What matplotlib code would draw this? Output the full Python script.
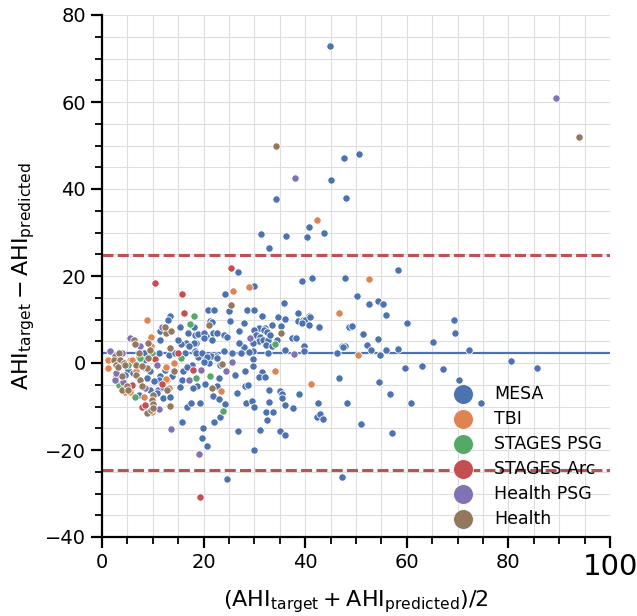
import numpy as np
import matplotlib
matplotlib.use("Agg")
import matplotlib.pyplot as plt
from matplotlib.ticker import MultipleLocator

# (mean AHI, difference) pairs, one list per dataset
mesa = [
    (44.8, 72.9), (50.6, 48.1), (47.6, 47.1), (45.0, 42.1), (48.1, 37.9), (34.3, 37.6),
    (40.7, 31.3), (31.3, 29.7), (36.3, 29.2), (40.4, 29.0), (43.7, 30.0), (32.9, 26.4),
    (39.3, 18.9), (41.4, 19.6), (47.8, 19.5), (58.3, 21.3), (50.1, 15.4), (54.3, 14.2),
    (26.7, 20.9), (24.3, 15.9), (30.0, 17.6),
    (52.5, 13.6), (55.4, 13.6), (56.0, 11.0), (40.8, 10.8), (42.8, 8.2), (48.7, 8.2),
    (49.3, 8.4), (60.0, 9.3), (69.2, 10.0), (69.4, 6.9), (51.3, 6.7), (54.3, 5.6),
    (65.2, 4.8), (52.2, 4.1), (52.9, 3.0), (54.7, 1.8), (56.0, 3.1), (58.2, 3.3),
    (72.2, 3.1), (47.3, 3.9), (47.9, 3.9), (47.5, 3.6), (46.3, 2.3), (39.8, 3.9),
    (39.7, 2.7), (80.6, 0.5), (85.7, -1.2), (59.6, -1.1), (62.9, -0.6), (67.2, -1.4),
    (70.2, -3.9), (46.6, -3.4), (54.6, -4.3), (56.7, -7.2), (38.7, -7.1), (42.6, -9.2),
    (48.2, -9.2), (60.9, -9.3), (74.7, -9.2), (42.4, -12.3), (43.0, -11.8), (43.5, -12.9),
    (50.9, -14.0), (57.0, -16.2), (47.3, -26.1),
    (38.5, 11.6), (38.5, 9.6), (39.6, 9.9), (40.0, 10.0), (39.4, 9.1), (40.8, 8.7),
    (37.4, 5.7), (38.1, 5.7), (37.6, -10.4), (41.0, 10.6),
    (25.0, 12.0), (20.8, 12.2), (22.1, 12.2), (28.6, 12.2), (30.0, 12.2), (35.8, 13.9),
    (21.2, 9.7), (21.6, 9.4), (25.1, 9.7), (27.9, 9.1), (31.5, 10.9), (34.7, 10.6),
    (36.0, 10.1), (33.4, 8.7), (35.3, 8.6), (30.9, 8.0), (32.0, 8.0), (31.9, 7.6),
    (32.5, 7.2), (30.0, 7.6), (27.0, 7.4), (21.9, 7.0), (22.6, 7.0), (24.0, 6.4),
    (24.6, 5.9), (20.4, 6.2), (21.6, 5.3), (18.3, 6.5), (18.6, 4.7), (30.4, 6.4),
    (31.2, 5.9), (30.9, 5.1), (31.6, 5.3), (32.6, 5.4), (33.0, 6.4), (34.5, 5.4),
    (32.2, 4.1), (33.4, 4.0), (29.7, 4.5), (27.9, 3.7), (26.9, 4.5), (36.0, 3.0),
    (32.7, 2.4), (29.8, 2.8), (28.9, 2.6), (27.4, 2.4), (25.5, 2.2), (24.1, 2.8),
    (22.4, 1.6), (21.4, 1.6), (20.0, 1.4), (18.8, 1.4), (18.3, 2.7), (29.8, 0.9),
    (29.8, -0.7), (20.4, 1.1), (21.1, -0.1),
    (18.7, -5.4), (17.9, -5.8), (20.3, -4.8), (23.0, -3.5), (22.6, -5.3), (21.8, -7.6),
    (23.0, -8.2), (24.3, -9.4), (19.2, -9.3), (23.2, -12.3), (22.1, -13.6), (19.9, -14.9),
    (19.6, -17.2), (20.7, -19.1), (24.6, -26.7), (26.6, -7.0), (26.1, -2.8), (28.2, -1.8),
    (31.4, -2.0), (31.0, -3.3), (32.0, -3.3), (28.2, -5.3), (28.7, -5.0), (32.9, -6.3),
    (28.4, -9.3), (29.5, -8.7), (29.9, -10.0), (32.9, -9.0), (35.0, -6.5), (35.5, -7.2),
    (35.4, -8.1), (36.0, -9.7), (32.2, -11.2), (33.7, -11.2), (32.4, -13.1), (31.1, -15.3),
    (26.7, -15.6), (35.1, -15.6), (36.0, -16.5), (30.0, -20.0),
    (13.3, 10.8), (12.9, 10.0), (11.4, 7.4), (11.4, 5.4), (15.4, 8.2), (14.9, 5.4),
    (16.9, 6.8), (18.8, 6.6), (8.2, 2.2), (8.2, 0.7), (11.3, 2.4), (13.2, 1.8),
    (14.4, 2.2), (16.6, 4.5), (18.1, 4.5), (16.3, 2.2), (18.5, 2.2), (19.6, 2.2),
    (9.4, -1.8), (12.4, -1.6), (11.4, -3.1), (16.0, -1.8), (15.8, -3.9), (9.4, -6.1),
    (11.0, -6.2), (12.0, -5.6), (7.9, -5.4), (7.2, -7.4), (12.0, -8.1), (13.4, -7.9),
    (16.8, -10.2), (15.7, -13.5), (15.3, -5.6), (11.3, -3.9), (10.8, -6.8), (5.1, -1.6),
    (8.9, -3.5), (17.5, -9.3), (15.5, 4.3), (17.2, 3.8), (17.7, -0.4), (16.7, -1.0),
    (20.6, 1.3), (20.1, 0.3), (22.6, 1.1), (23.3, -0.4), (20.0, 6.8), (20.1, 5.7),
    (15.0, 5.3), (18.2, 8.3), (4.5, -2.8), (7.2, 1.4), (6.2, -2.2), (10.3, -4.2),
    (13.8, -3.0),
]
tbi = [
    (42.3, 32.9), (52.5, 19.4), (25.7, 16.6), (28.9, 17.4), (46.6, 11.6), (50.3, 1.9),
    (41.1, -4.8), (34.0, -1.8), (23.5, -6.4), (8.9, 9.9), (9.6, 5.9), (1.1, 0.8),
    (1.1, -1.1), (5.5, 0.7), (7.2, 0.1), (14.2, 0.0), (12.8, -3.9), (13.1, -5.8),
    (9.8, -11.2), (4.5, -6.7), (5.5, -6.6), (5.9, 0.7), (6.6, -1.8), (8.2, -7.8),
    (9.6, 3.8), (10.0, -7.6), (12.6, -3.7), (12.6, -1.0), (9.0, -10.5),
]
stages_psg = [
    (34.1, 4.3), (18.2, 10.8), (17.4, 9.0), (18.6, -3.4), (21.2, -2.9), (23.9, -11.1),
    (9.9, 2.2), (3.4, -5.0), (5.2, -0.4), (7.4, 1.1), (6.4, -7.9), (15.6, 1.1),
]
stages_arc = [
    (10.5, 18.5), (15.7, 15.9), (25.3, 21.9), (16.1, 11.6), (14.9, 2.2), (10.5, 0.9),
    (17.9, -1.7), (11.8, -4.8), (7.9, -10.0), (8.4, -9.6), (2.8, -3.1), (5.9, -5.0),
    (8.5, -1.2), (19.3, -30.7),
]
health_psg = [
    (37.9, 42.6), (89.4, 61.0), (37.8, 2.1), (29.2, 5.7), (25.5, 0.2), (19.5, -1.6),
    (24.5, -1.8), (19.0, -21.0), (11.8, 8.3), (5.5, 5.7), (7.5, 3.9), (1.6, 2.8),
    (10.8, -0.4), (17.1, -3.9), (11.3, -10.6), (2.6, -3.9), (2.8, -2.4), (3.9, 2.4),
    (4.2, -4.3), (8.5, -5.8), (13.6, -15.2),
]
health = [
    (34.3, 50.0), (93.9, 52.0), (25.4, 13.3), (21.0, 8.7), (35.3, 7.0), (23.7, -0.3),
    (21.6, -5.8), (12.6, 6.8), (13.6, 7.3), (9.1, 4.5), (9.4, 3.0), (2.5, 1.6),
    (3.3, 2.2), (2.3, 0.7), (3.6, 0.7), (2.7, -0.4), (4.4, 0.0), (9.0, 1.1), (7.7, -0.7),
    (8.8, -1.1), (14.2, -1.8), (10.1, -7.4), (9.8, -8.5), (13.3, -9.9), (6.3, 5.4),
    (6.4, 4.4), (7.2, 2.4), (6.7, -0.4), (7.9, -0.7), (6.7, -2.8), (7.5, -3.9),
    (7.9, -5.4), (8.9, -11.6), (9.6, -10.8), (10.1, -9.4), (10.1, -10.3), (12.7, -6.2),
    (12.4, 8.3), (13.4, 3.4), (3.2, -1.0), (3.9, -3.1), (4.5, -0.4), (3.9, -6.2),
    (4.9, -5.4), (5.2, -6.1),
]

groups = ["MESA", "TBI", "STAGES PSG", "STAGES Arc", "Health PSG", "Health"]
data = [mesa, tbi, stages_psg, stages_arc, health_psg, health]
colors = ["#4C72B0", "#DD8452", "#55A868", "#C44E52", "#8172B3", "#937860"]

mean_diff = 2.3
upper_loa = 24.9
lower_loa = -24.7

fig = plt.figure(figsize=(6.37, 6.16), dpi=100)
ax = fig.add_axes([102 / 637, 79 / 616, 508 / 637, 522 / 616])

for name, pts, c in zip(groups, data, colors):
    pts = np.asarray(pts)
    ax.scatter(pts[:, 0], pts[:, 1], s=28, color=c, edgecolor="white", linewidth=0.6,
               label=name, zorder=3)

ax.axhline(mean_diff, color="#4C72B0", lw=1.6, zorder=2)
ax.axhline(upper_loa, color="#C44E52", lw=2.2, ls=(0, (3.6, 1.4)), zorder=2)
ax.axhline(lower_loa, color="#C44E52", lw=2.2, ls=(0, (3.6, 1.4)), zorder=2)

ax.set_xlim(0, 100)
ax.set_ylim(-40, 80)
ax.xaxis.set_major_locator(MultipleLocator(20))
ax.xaxis.set_minor_locator(MultipleLocator(5))
ax.yaxis.set_major_locator(MultipleLocator(20))
ax.yaxis.set_minor_locator(MultipleLocator(5))
ax.grid(True, which="both", color="#dedede", lw=0.8, zorder=0)
ax.set_axisbelow(True)

for s in ["top", "right"]:
    ax.spines[s].set_visible(False)
for s in ["left", "bottom"]:
    ax.spines[s].set_linewidth(1.6)
ax.tick_params(which="major", length=8, width=1.6, labelsize=14)
ax.tick_params(which="minor", length=5, width=1.3)
fig.canvas.draw()
for lab in ax.get_xticklabels():
    if lab.get_text() == "100":
        lab.set_fontsize(21)

ax.set_xlabel(r"$(\mathrm{AHI}_{\mathrm{target}} + \mathrm{AHI}_{\mathrm{predicted}})/2$",
              fontsize=16, labelpad=5)
ax.set_ylabel(r"$\mathrm{AHI}_{\mathrm{target}} - \mathrm{AHI}_{\mathrm{predicted}}$",
              fontsize=16, labelpad=6)

ax.legend(loc="lower left", bbox_to_anchor=(0.645, -0.012), frameon=False, fontsize=12.5,
          markerscale=2.7, labelspacing=0.4, handletextpad=0.8)

fig.savefig("out.png", dpi=100)
